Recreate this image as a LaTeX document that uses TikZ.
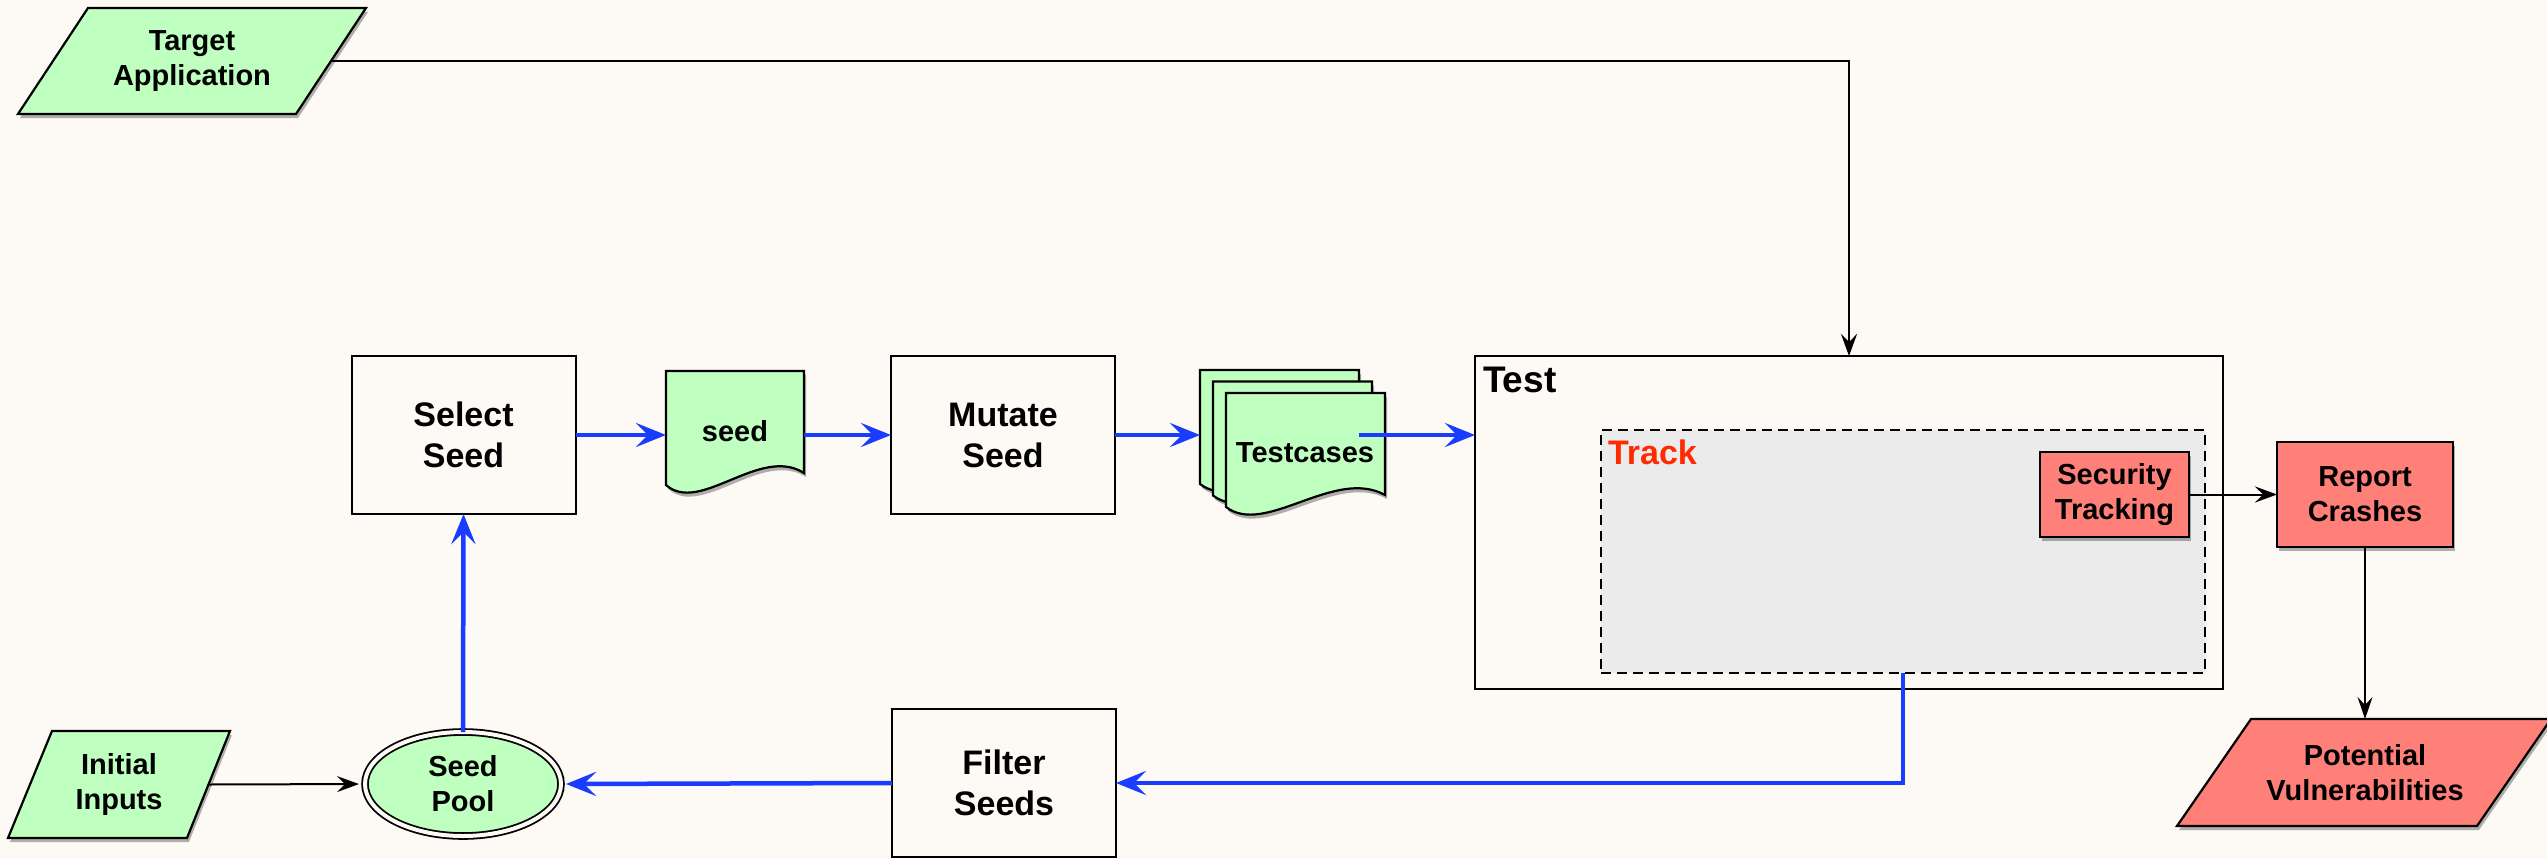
\documentclass[tikz,border=0pt]{standalone}
\usepackage{fontspec}
\setmainfont{Liberation Sans}
\usetikzlibrary{arrows.meta,shapes.geometric,shadows}

\definecolor{bgc}{HTML}{FDFAF5}
\definecolor{docgreen}{HTML}{BFFFC0}
\definecolor{alertred}{HTML}{FF7F79}
\definecolor{flowblue}{HTML}{1A3CFF}
\definecolor{trackgray}{HTML}{EBEBEB}
\definecolor{trackred}{HTML}{FF2A00}

\newcommand\boxfont{\fontsize{34}{41}\selectfont\bfseries}
\newcommand\smallfont{\fontsize{29}{35}\selectfont\bfseries}
\newcommand\testfont{\fontsize{37}{44}\selectfont\bfseries}

% wavy-bottom document outline: style, left x, top y, width
\newcommand\wavedoc[4]{%
  \path[#1] (#2,#3) -- (#2+#4,#3) -- (#2+#4,#3+102)
    .. controls (#2+0.681*#4,#3+74) and (#2+0.246*#4,#3+144) .. (#2,#3+114) -- cycle;}

\begin{document}
\begin{tikzpicture}[x=1pt,y=-1pt,
  every node/.style={inner sep=0pt,outer sep=0pt,align=center,font=\smallfont},
  plainbox/.style={draw,line width=2pt,fill=bgc,minimum width=224,minimum height=158,font=\boxfont},
  softshadow/.style={drop shadow={shadow xshift=2pt,shadow yshift=-4pt,opacity=0.3,fill=black}},
  greenshape/.style={draw,line width=2.2pt,fill=docgreen,softshadow},
  redshape/.style={draw,line width=2.2pt,fill=alertred,softshadow},
  anchorbox/.style={draw=none,fill=none},
  blu/.style={draw=flowblue,line width=4.5pt,-{Stealth[length=30pt,width=24pt,inset=12pt]}},
  blk/.style={draw=black,line width=2pt,-{Stealth[length=22pt,width=16pt,inset=8pt]}},
  blkthin/.style={draw=black,line width=1.4pt,-{Stealth[length=22pt,width=15pt,inset=8pt]}}]

% canvas
\fill[bgc] (0,0) rectangle (2547,859);
\useasboundingbox (0,0) rectangle (2547,859);

% input / output parallelograms
\path[greenshape] (88,8) -- (366,8) -- (296,114) -- (18,114) -- cycle;
\node[anchorbox,minimum width=278,minimum height=106] (ta) at (192,61) {Target\\Application};

\path[greenshape] (52,731) -- (230,731) -- (187,838) -- (8,838) -- cycle;
\node[anchorbox,minimum width=179,minimum height=107] (ini) at (119,784.5) {Initial\\Inputs};

\path[redshape] (2251,719) -- (2551,719) -- (2477,826) -- (2177,826) -- cycle;
\node[anchorbox,minimum width=220,minimum height=107] (pv) at (2365,772.5) {Potential\\Vulnerabilities};

% process boxes
\node[plainbox] (sel) at (463.5,435) {Select\\Seed};
\node[plainbox] (mut) at (1003,435) {Mutate\\Seed};
\node[plainbox,minimum height=148] (filt) at (1004,783) {Filter\\Seeds};

% seed document
\wavedoc{greenshape}{666}{371}{138}
\node[anchorbox,minimum width=138,minimum height=128] (seed) at (735,435) {};
\node (seedlbl) at (735,431) {seed};

% stacked testcases
\wavedoc{greenshape}{1200}{370}{159}
\wavedoc{greenshape}{1213}{381.5}{159}
\wavedoc{greenshape}{1226}{393}{159}
\node[anchorbox,minimum width=159,minimum height=130] (tcb) at (1279.5,435) {};
\node (tclbl) at (1305,453) {Testcases};

% seed pool
\node[ellipse,draw,line width=1.8pt,double=bgc,double distance=4pt,fill=docgreen,
      minimum width=196,minimum height=104] (pool) at (463,784) {Seed\\Pool};

% test harness with tracking region
\node[draw,line width=2pt,fill=bgc,minimum width=748,minimum height=333] (test) at (1849,522.5) {};
\node[anchor=base west,font=\testfont] (testlbl) at (1483,392) {Test};
\node[draw,dashed,dash pattern=on 10pt off 6pt,line width=2pt,fill=trackgray,
      minimum width=604,minimum height=243] (track) at (1903,551.5) {};
\node[anchor=base west,font=\boxfont,text=trackred] (tracklbl) at (1608,464) {Track};
\node[redshape,minimum width=149,minimum height=85] (sec) at (2114.5,494.5) {Security\\Tracking};
\node[redshape,minimum width=176,minimum height=105] (rep) at (2365,494.5) {Report\\Crashes};

% connectors
\draw[blk] (ta.east) -| (test.north);
\draw[blu] (sel.east) -- (seed.west);
\draw[blu] (seed.east) -- (mut.west);
\draw[blu] (mut.east) -- (tcb.west);
\draw[blu] (tcb.east) -- (tcb.east -| test.west);
\draw[blk] (sec.east) -- (rep.west);
\draw[blkthin] (rep.south) -- (pv.north);
\draw[blu] (track.south) |- (filt.east);
\draw[blu,shorten >=5pt] (filt.west) -- (pool.east);
\draw[blu] (pool.north) -- (sel.south);
\draw[blk,shorten >=6pt] (ini.east) -- (pool.west);
\end{tikzpicture}
\end{document}
